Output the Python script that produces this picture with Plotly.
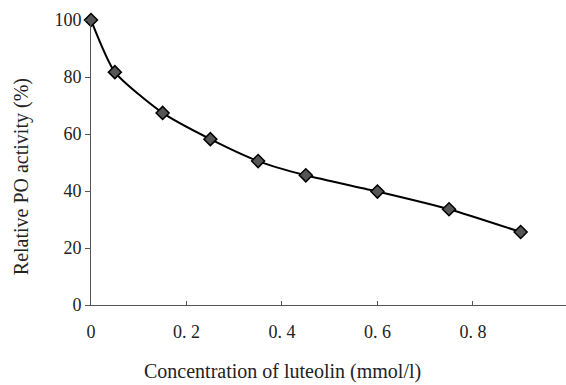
import plotly.graph_objects as go

conc = [0, 0.05, 0.15, 0.25, 0.35, 0.45, 0.6, 0.75, 0.9]
activity = [100, 81.7, 67.4, 58.2, 50.5, 45.5, 39.8, 33.6, 25.6]
xticks = [0, 0.2, 0.4, 0.6, 0.8]
xticklabels = ["0", "0. 2", "0. 4", "0. 6", "0. 8"]
yticks = [0, 20, 40, 60, 80, 100]
xtitle = "Concentration of luteolin (mmol/l)"
ytitle = "Relative PO activity (%)"

font = "Liberation Serif"

fig = go.Figure()
fig.add_trace(go.Scatter(
    x=conc, y=activity, mode="lines+markers",
    line=dict(color="black", width=2, shape="spline", smoothing=0.6),
    marker=dict(symbol="diamond", size=10, color="#555555",
                line=dict(color="black", width=1.5)),
    cliponaxis=False, showlegend=False,
))

fig.update_layout(
    width=566, height=385,
    margin=dict(l=91, r=0, t=20, b=80),
    paper_bgcolor="white", plot_bgcolor="white",
    font=dict(family=font, size=18, color="#222222"),
    xaxis=dict(
        range=[0, 0.995], tickvals=xticks, ticktext=xticklabels,
        showline=True, linecolor="#555555", linewidth=1,
        ticks="inside", ticklen=4, tickcolor="#555555",
        showgrid=False, zeroline=False,
        ticklabelstandoff=10,
    ),
    yaxis=dict(
        range=[0, 100], tickvals=yticks,
        showline=True, linecolor="#555555", linewidth=1,
        ticks="outside", ticklen=5, tickcolor="#555555",
        showgrid=False, zeroline=False,
    ),
    annotations=[
        dict(text=xtitle, xref="paper", yref="paper", x=0.404, y=-0.235,
             xanchor="center", yanchor="middle", showarrow=False,
             font=dict(family=font, size=20, color="#222222")),
        dict(text=ytitle, xref="paper", yref="paper", x=-0.147, y=0.449,
             xanchor="center", yanchor="middle", showarrow=False, textangle=-90,
             font=dict(family=font, size=20, color="#222222")),
    ],
)

fig.write_html("out.html")
